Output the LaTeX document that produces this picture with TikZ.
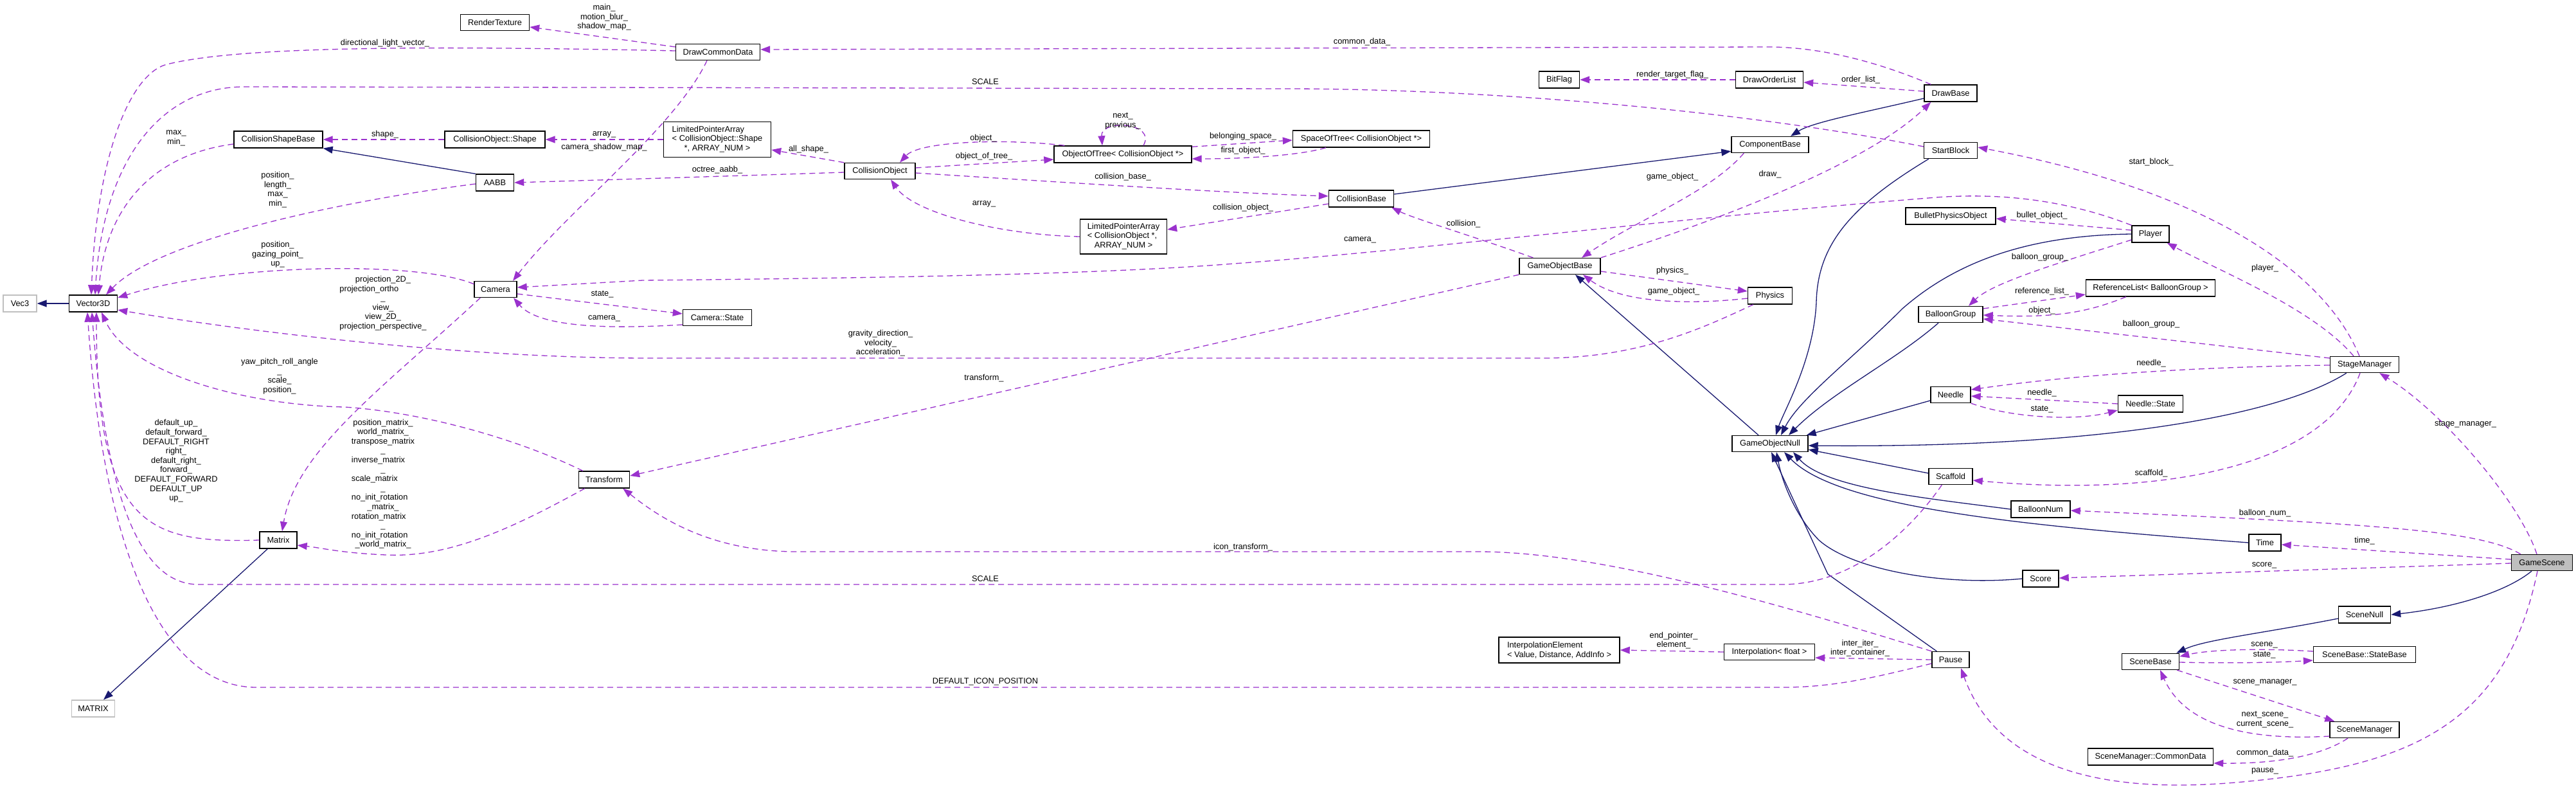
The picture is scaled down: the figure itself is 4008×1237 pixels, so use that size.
\documentclass[tikz,border=0pt]{standalone}
\usepackage{fontspec}
\setmainfont{Liberation Sans}
\usetikzlibrary{arrows.meta,calc}
\definecolor{usecol}{HTML}{9A32CD}
\definecolor{inhcol}{HTML}{191970}
\definecolor{grayfill}{HTML}{BFBFBF}
\newcommand\lblfont{\fontsize{12.8}{14.6}\selectfont}
\newcommand\Lft[1]{\multicolumn{1}{@{}l@{}}{#1}}
\begin{document}
\begin{tikzpicture}[x=1pt,y=-1pt,
  cls/.style={draw=black, fill=white, line width=1.4pt, inner sep=0pt, font=\lblfont, align=center},
  ext/.style={cls, draw=grayfill},
  depline/.style={draw=usecol, line width=1.3pt, dash pattern=on 9pt off 6pt, -{Triangle[length=15pt,width=11pt]}},
  inhline/.style={draw=inhcol, line width=1.3pt, -{Triangle[length=15pt,width=11pt]}},
  lab/.style={font=\lblfont, inner sep=0pt, align=center}]
\fill[white] (0,0) rectangle (4008,1237);
\useasboundingbox (0,0) rectangle (4008,1237);

% ---------- classes ----------
\node[cls,minimum width=107pt,minimum height=25pt] (RT) at (770,35) {RenderTexture};
\node[cls,minimum width=131pt,minimum height=25pt] (DCD) at (1117,81) {DrawCommonData};
\node[cls,minimum width=138pt,minimum height=26pt] (CSB) at (433,217) {CollisionShapeBase};
\node[cls,minimum width=156pt,minimum height=26pt] (COS) at (770,217) {CollisionObject::Shape};
\node[cls,minimum width=59pt,minimum height=26pt] (AABB) at (770,284) {AABB};
\node[cls,minimum width=167pt,minimum height=55pt] (LPAS) at (1116,217) {\begin{tabular}{@{}l@{}}LimitedPointerArray\\< CollisionObject::Shape\\\multicolumn{1}{@{}c@{}}{*, ARRAY\_NUM >}\end{tabular}};
\node[cls,minimum width=110pt,minimum height=25pt] (CO) at (1369,266) {CollisionObject};
\node[cls,minimum width=214pt,minimum height=26pt] (OOT) at (1747,240) {ObjectOfTree< CollisionObject *>};
\node[cls,minimum width=135pt,minimum height=54pt] (LPAC) at (1748,368) {\begin{tabular}{@{}l@{}}LimitedPointerArray\\< CollisionObject *,\\\multicolumn{1}{@{}c@{}}{ARRAY\_NUM >}\end{tabular}};
\node[cls,minimum width=213pt,minimum height=26pt] (SOT) at (2118,216) {SpaceOfTree< CollisionObject *>};
\node[cls,minimum width=63pt,minimum height=26pt] (BitFlag) at (2426,124) {BitFlag};
\node[cls,minimum width=105pt,minimum height=26pt] (DOL) at (2753,124) {DrawOrderList};
\node[cls,minimum width=120pt,minimum height=25pt] (CB) at (2754,225) {ComponentBase};
\node[cls,minimum width=101pt,minimum height=26pt] (ColB) at (2118,309) {CollisionBase};
\node[cls,minimum width=126pt,minimum height=25pt] (GOB) at (2427,414) {GameObjectBase};
\node[cls,minimum width=82pt,minimum height=26pt] (DB) at (3035,145) {DrawBase};
\node[cls,minimum width=83pt,minimum height=25pt] (StB) at (3035,234) {StartBlock};
\node[cls,minimum width=140pt,minimum height=26pt] (BPO) at (3035,336) {BulletPhysicsObject};
\node[cls,minimum width=58pt,minimum height=26pt] (Player) at (3346,364) {Player};
\node[ext,minimum width=52pt,minimum height=26pt] (Vec3) at (31,472) {Vec3};
\node[cls,minimum width=75pt,minimum height=26pt] (V3D) at (145,472) {Vector3D};
\node[cls,minimum width=66pt,minimum height=25pt] (Cam) at (771,450) {Camera};
\node[cls,minimum width=79pt,minimum height=26pt] (Tr) at (940,746) {Transform};
\node[cls,minimum width=58pt,minimum height=26pt] (Mat) at (433,840) {Matrix};
\node[ext,minimum width=67pt,minimum height=26pt] (MAT) at (145,1102) {MATRIX};
\node[cls,minimum width=107pt,minimum height=25pt] (CamSt) at (1116,494) {Camera::State};
\node[cls,minimum width=69pt,minimum height=26pt] (Phys) at (2754,460) {Physics};
\node[cls,minimum width=118pt,minimum height=25pt] (GON) at (2754,690) {GameObjectNull};
\node[cls,minimum width=100pt,minimum height=25pt] (BG) at (3035,489) {BalloonGroup};
\node[cls,minimum width=62pt,minimum height=25pt] (Needle) at (3035,614) {Needle};
\node[cls,minimum width=68pt,minimum height=25pt] (Scaf) at (3035,741) {Scaffold};
\node[cls,minimum width=92pt,minimum height=26pt] (BN) at (3175,792) {BalloonNum};
\node[cls,minimum width=201pt,minimum height=26pt] (RL) at (3346,448) {ReferenceList< BalloonGroup >};
\node[cls,minimum width=107pt,minimum height=25pt] (StM) at (3679,567) {StageManager};
\node[cls,minimum width=101pt,minimum height=26pt] (NS) at (3346,628) {Needle::State};
\node[cls,minimum width=50pt,minimum height=26pt] (Time) at (3524,844) {Time};
\node[cls,fill=grayfill,minimum width=95pt,minimum height=25pt] (GS) at (3955,875) {GameScene};
\node[cls,minimum width=56pt,minimum height=26pt] (Score) at (3175,900) {Score};
\node[cls,minimum width=81pt,minimum height=26pt] (SN) at (3679,956) {SceneNull};
\node[cls,minimum width=58pt,minimum height=25pt] (Pause) at (3035,1026) {Pause};
\node[cls,minimum width=89pt,minimum height=25pt] (SBase) at (3346,1029) {SceneBase};
\node[cls,minimum width=159pt,minimum height=25pt] (SBSB) at (3679,1018) {SceneBase::StateBase};
\node[cls,minimum width=108pt,minimum height=25pt] (ScM) at (3679,1135) {SceneManager};
\node[cls,minimum width=195pt,minimum height=26pt] (SMCD) at (3346,1177) {SceneManager::CommonData};
\node[cls,align=left,minimum width=188pt,minimum height=40pt] (IE) at (2426,1011) {InterpolationElement\\< Value, Distance, AddInfo >};
\node[cls,minimum width=141pt,minimum height=25pt] (Interp) at (2753,1014) {Interpolation< float >};

% ---------- inheritance ----------
\draw[inhline] (V3D.west) -- (Vec3.east);
\draw[inhline] (AABB.north west) -- (CSB.south east);
\draw[inhline] ($(ColB.east)+(0,-7)$) -- ($(CB.south west)+(0,-3)$);
\draw[inhline] ($(DB.west)+(0,8)$) .. controls (2900,175) and (2820,190) .. ($(CB.north)+(32,0)$);
\draw[inhline] ($(GON.north)+(-18,0)$) -- ($(GOB.south)+(24,0)$);
\draw[inhline] ($(StB.south west)+(8,0)$) .. controls (2880,320) and (2828,380) .. (2826,470) .. controls (2822,560) and (2775,640) .. ($(GON.north)+(9,0)$);
\draw[inhline] (Player.west) .. controls (3150,366) and (3040,410) .. (2960,480) .. controls (2880,560) and (2800,620) .. ($(GON.north)+(17,0)$);
\draw[inhline] ($(BG.south)+(-19,0)$) .. controls (2950,560) and (2850,610) .. ($(GON.north)+(29,0)$);
\draw[inhline] ($(Needle.west)+(0,9)$) -- ($(GON.north east)+(-3,0)$);
\draw[inhline] ($(StM.south west)+(26,0)$) .. controls (3540,650) and (3250,697) .. ($(GON.east)+(0,3)$);
\draw[inhline] ($(Scaf.west)+(0,-5)$) -- ($(GON.south east)+(0,-4)$);
\draw[inhline] (BN.west) .. controls (3000,775) and (2840,760) .. ($(GON.south)+(36,0)$);
\draw[inhline] (Time.west) .. controls (3150,818) and (2860,790) .. ($(GON.south)+(22,0)$);
\draw[inhline] (Score.west) .. controls (3020,912) and (2880,885) .. (2830,840) .. controls (2800,810) and (2775,760) .. ($(GON.south)+(10,0)$);
\draw[inhline] ($(Pause.north west)+(8,0)$) -- (2844,893) -- ($(GON.south)+(2,0)$);
\draw[inhline] ($(GS.south)+(-16,0)$) .. controls (3900,920) and (3820,945) .. (SN.east);
\draw[inhline] ($(SN.west)+(0,6)$) .. controls (3520,985) and (3430,995) .. ($(SBase.north east)+(-5,0)$);
\draw[inhline] ($(Mat.south west)+(13,0)$) -- ($(MAT.north)+(16,0)$);

% ---------- usage ----------
\draw[depline] ($(DCD.west)+(0,-8)$) -- ($(RT.east)+(0,7)$);
\draw[depline] ($(DCD.west)+(0,-2)$) .. controls (700,72) and (380,70) .. (260,100) .. controls (200,115) and (150,250) .. ($(V3D.north)+(-3,0)$);
\draw[depline] ($(StB.west)+(0,-6)$) .. controls (2700,170) and (2300,138) .. (2000,138) -- (380,135) .. controls (250,135) and (160,250) .. ($(V3D.north)+(3,0)$);
\draw[depline] ($(CSB.west)+(0,7)$) .. controls (240,240) and (165,320) .. ($(V3D.north)+(8,0)$);
\draw[depline] ($(AABB.west)+(0,2)$) .. controls (550,310) and (250,370) .. ($(V3D.north)+(20,0)$);
\draw[depline] ($(Cam.north west)+(0,5)$) .. controls (650,405) and (350,410) .. ($(V3D.east)+(0,-9)$);
\draw[depline] ($(Phys.south west)+(9,0)$) .. controls (2650,510) and (2550,557) .. (2400,557) -- (1010,557) .. controls (700,557) and (350,510) .. ($(V3D.east)+(0,10)$);
\draw[depline] ($(Tr.north west)+(7,0)$) .. controls (800,680) and (650,640) .. (535,633) .. controls (380,630) and (200,580) .. ($(V3D.south)+(13,0)$);
\draw[depline] (Mat.west) .. controls (230,845) and (150,820) .. ($(V3D.south)+(5,0)$);
\draw[depline] ($(Scaf.south west)+(21,0)$) .. controls (2990,800) and (2900,909) .. (2773,909) -- (309,909) .. controls (220,909) and (165,780) .. ($(V3D.south)+(-2,0)$);
\draw[depline] ($(Pause.west)+(0,6)$) .. controls (2930,1050) and (2860,1069) .. (2773,1069) -- (399,1069) .. controls (250,1069) and (160,850) .. ($(V3D.south)+(-9,0)$);
\draw[depline] ($(DCD.south)+(-17,0)$) .. controls (1050,200) and (880,330) .. ($(Cam.north)+(27,0)$);
\draw[depline] (LPAS.west) -- (COS.east);
\draw[depline] (COS.west) -- (CSB.east);
\draw[depline] (CO.north west) -- ($(LPAS.east)+(0,16)$);
\draw[depline] ($(CO.west)+(0,2)$) .. controls (1100,275) and (900,281) .. (AABB.east);
\draw[depline] ($(OOT.north west)+(17,0)$) .. controls (1560,215) and (1430,220) .. ($(CO.north)+(31,0)$);
\draw[depline] ($(CO.east)+(0,-5)$) -- ($(OOT.west)+(0,8)$);
\draw[depline] ($(OOT.north)+(32,0)$) .. controls (1800,190) and (1712,185) .. ($(OOT.north)+(-32,0)$);
\draw[depline] ($(OOT.north east)+(0,2)$) -- ($(SOT.west)+(0,2)$);
\draw[depline] ($(SOT.south west)+(52,0)$) .. controls (2030,240) and (1950,247) .. ($(OOT.east)+(0,7)$);
\draw[depline] ($(CO.east)+(0,3)$) .. controls (1600,280) and (1900,300) .. ($(ColB.west)+(0,-4)$);
\draw[depline] (LPAC.west) .. controls (1550,365) and (1420,330) .. ($(CO.south)+(17,0)$);
\draw[depline] ($(ColB.west)+(0,8)$) -- ($(LPAC.east)+(0,-11)$);
\draw[depline] ($(DB.north west)+(11,0)$) .. controls (2930,100) and (2840,73) .. (2750,73) -- ($(DCD.east)+(0,-4)$);
\draw[depline] (DOL.west) -- (BitFlag.east);
\draw[depline] ($(DB.west)+(0,-3)$) -- ($(DOL.east)+(0,4)$);
\draw[depline] ($(CB.south west)+(20,0)$) .. controls (2660,300) and (2550,340) .. ($(GOB.north)+(34,0)$);
\draw[depline] (GOB.north east) .. controls (2650,350) and (2900,260) .. ($(DB.south west)+(11,0)$);
\draw[depline] ($(GOB.north west)+(22,0)$) .. controls (2300,370) and (2200,340) .. ($(ColB.south east)+(-4,0)$);
\draw[depline] (Player.north west) .. controls (3200,305) and (3090,300) .. (3000,308) .. controls (2600,340) and (2200,390) .. (1920,410) .. controls (1700,428) and (1300,433) .. (1000,436) -- ($(Cam.east)+(0,-3)$);
\draw[depline] ($(Cam.east)+(0,7)$) -- ($(CamSt.west)+(0,-6)$);
\draw[depline] ($(CamSt.west)+(0,11)$) .. controls (900,515) and (830,500) .. ($(Cam.south)+(28,0)$);
\draw[depline] ($(Cam.south west)+(10,0)$) .. controls (600,600) and (460,700) .. ($(Mat.north)+(6,0)$);
\draw[depline] ($(Tr.south west)+(10,0)$) .. controls (800,820) and (700,868) .. (600,863) .. controls (530,860) and (500,852) .. ($(Mat.east)+(0,8)$);
\draw[depline] (GOB.south west) -- ($(Tr.east)+(0,-6)$);
\draw[depline] ($(GOB.east)+(0,8)$) -- ($(Phys.west)+(0,-7)$);
\draw[depline] ($(Phys.west)+(0,4)$) .. controls (2620,475) and (2520,470) .. ($(GOB.south)+(36,0)$);
\draw[depline] ($(StM.north)+(-8,0)$) .. controls (3620,430) and (3450,300) .. ($(StB.east)+(0,-5)$);
\draw[depline] ($(Player.west)+(0,-6)$) -- ($(BPO.east)+(0,4)$);
\draw[depline] ($(Player.west)+(0,9)$) .. controls (3200,410) and (3100,440) .. ($(BG.north)+(28,0)$);
\draw[depline] ($(StM.north)+(-17,0)$) .. controls (3600,480) and (3450,420) .. ($(Player.south east)+(-4,0)$);
\draw[depline] ($(BG.east)+(0,-9)$) -- ($(RL.west)+(0,10)$);
\draw[depline] ($(RL.south west)+(63,0)$) .. controls (3250,485) and (3200,495) .. ($(BG.east)+(0,1)$);
\draw[depline] ($(StM.west)+(0,-10)$) -- ($(BG.east)+(0,7)$);
\draw[depline] ($(StM.west)+(0,1)$) .. controls (3450,570) and (3250,580) .. ($(Needle.east)+(0,-8)$);
\draw[depline] (NS.west) -- ($(Needle.east)+(0,2)$);
\draw[depline] (Needle.south east) .. controls (3130,650) and (3230,655) .. ($(NS.west)+(0,10)$);
\draw[depline] ($(StM.south)+(-7,0)$) .. controls (3620,720) and (3380,775) .. ($(Scaf.east)+(0,6)$);
\draw[depline] ($(GS.north)+(-8,0)$) .. controls (3920,780) and (3800,640) .. ($(StM.south east)+(-31,0)$);
\draw[depline] ($(GS.north west)+(15,0)$) .. controls (3860,825) and (3700,815) .. ($(BN.east)+(0,2)$);
\draw[depline] ($(GS.west)+(0,-5)$) -- ($(Time.east)+(0,3)$);
\draw[depline] ($(GS.west)+(0,1)$) -- ($(Score.east)+(0,-1)$);
\draw[depline] ($(GS.south)+(-7,0)$) .. controls (3900,1120) and (3760,1190) .. (3500,1215) .. controls (3350,1230) and (3120,1230) .. ($(Pause.south)+(16,0)$);
\draw[depline] ($(SBSB.west)+(0,-5)$) .. controls (3520,1008) and (3440,1010) .. ($(SBase.east)+(0,-8)$);
\draw[depline] ($(SBase.east)+(0,1)$) .. controls (3480,1032) and (3550,1030) .. ($(SBSB.west)+(0,9)$);
\draw[depline] ($(SBase.south east)+(-4,0)$) -- ($(ScM.north west)+(8,0)$);
\draw[depline] ($(ScM.west)+(0,10)$) .. controls (3500,1152) and (3400,1130) .. ($(SBase.south)+(15,0)$);
\draw[depline] ($(ScM.south)+(-26,0)$) .. controls (3620,1170) and (3560,1188) .. ($(SMCD.east)+(0,10)$);
\draw[depline] (Interp.west) -- (IE.east);
\draw[depline] (Pause.west) -- ($(Interp.east)+(0,9)$);
\draw[depline] (Pause.north west) .. controls (2800,950) and (2500,858) .. (2300,858) -- (1240,858) .. controls (1100,858) and (1020,800) .. ($(Tr.south east)+(-11,0)$);

% ---------- labels ----------
\node[lab] (l1) at (940,27) {main\_\\motion\_blur\_\\shadow\_map\_};
\node[lab] (l2) at (599,67) {directional\_light\_vector\_};
\node[lab] (l3) at (274,215) {max\_\\min\_};
\node[lab] (l4) at (599,209) {shape\_};
\node[lab] (l5) at (940,209) {array\_};
\node[lab] (l6) at (940,229) {camera\_shadow\_map\_};
\node[lab] (l7) at (432,295) {position\_\\length\_\\max\_\\min\_};
\node[lab] (l8) at (432,396) {position\_\\gazing\_point\_\\up\_};
\node[lab] (l9) at (1533,127) {SCALE};
\node[lab] (l10) at (1747,188) {next\_\\previous\_};
\node[lab] (l11) at (1530,215) {object\_};
\node[lab] (l12) at (1934,212) {belonging\_space\_};
\node[lab] (l13) at (1934,234) {first\_object\_};
\node[lab] (l14) at (1258,232) {all\_shape\_};
\node[lab] (l15) at (1531,243) {object\_of\_tree\_};
\node[lab] (l16) at (1116,264) {octree\_aabb\_};
\node[lab] (l17) at (1747,275) {collision\_base\_};
\node[lab] (l18) at (1531,317) {array\_};
\node[lab] (l19) at (1934,323) {collision\_object\_};
\node[lab] (l20) at (2119,65) {common\_data\_};
\node[lab] (l21) at (2602,116) {render\_target\_flag\_};
\node[lab] (l22) at (2895,124) {order\_list\_};
\node[lab] (l23) at (2602,275) {game\_object\_};
\node[lab] (l24) at (2754,271) {draw\_};
\node[lab] (l25) at (2277,348) {collision\_};
\node[lab] (l26) at (2116,373) {camera\_};
\node[lab] (l27) at (2602,421) {physics\_};
\node[lab] (l28) at (2604,453) {game\_object\_};
\node[lab] (l29) at (3347,252) {start\_block\_};
\node[lab] (l30) at (3177,335) {bullet\_object\_};
\node[lab] (l31) at (3174,400) {balloon\_group\_};
\node[lab] (l32) at (3524,417) {player\_};
\node[lab] (l33) at (596,472) {\begin{tabular}{@{}c@{}}projection\_2D\_\\\Lft{projection\_ortho}\\\_\\view\_\\view\_2D\_\\projection\_perspective\_\end{tabular}};
\node[lab] (l34) at (937,458) {state\_};
\node[lab] (l35) at (940,495) {camera\_};
\node[lab] (l36) at (435,585) {yaw\_pitch\_roll\_angle\\\_\\scale\_\\position\_};
\node[lab] (l37) at (274,717) {default\_up\_\\default\_forward\_\\DEFAULT\_RIGHT\\right\_\\default\_right\_\\forward\_\\DEFAULT\_FORWARD\\DEFAULT\_UP\\up\_};
\node[lab] (l38) at (596,753) {\begin{tabular}{@{}c@{}}position\_matrix\_\\world\_matrix\_\\transpose\_matrix\\\_\\\Lft{inverse\_matrix}\\\_\\\Lft{scale\_matrix}\\\_\\\Lft{no\_init\_rotation}\\\_matrix\_\\\Lft{rotation\_matrix}\\\_\\\Lft{no\_init\_rotation}\\\_world\_matrix\_\end{tabular}};
\node[lab] (l39) at (1370,534) {gravity\_direction\_\\velocity\_\\acceleration\_};
\node[lab] (l40) at (1531,588) {transform\_};
\node[lab] (l41) at (3177,453) {reference\_list\_};
\node[lab] (l42) at (3177,483) {object\_};
\node[lab] (l43) at (3347,504) {balloon\_group\_};
\node[lab] (l44) at (3347,565) {needle\_};
\node[lab] (l45) at (3177,611) {needle\_};
\node[lab] (l46) at (3177,637) {state\_};
\node[lab] (l47) at (3836,660) {stage\_manager\_};
\node[lab] (l48) at (3347,736) {scaffold\_};
\node[lab] (l49) at (3524,798) {balloon\_num\_};
\node[lab] (l50) at (3679,841) {time\_};
\node[lab] (l51) at (3523,879) {score\_};
\node[lab] (l52) at (3523,1003) {scene\_};
\node[lab] (l53) at (3523,1019) {state\_};
\node[lab] (l54) at (3524,1061) {scene\_manager\_};
\node[lab] (l55) at (3524,1119) {next\_scene\_\\current\_scene\_};
\node[lab] (l56) at (3524,1171) {common\_data\_};
\node[lab] (l57) at (3524,1199) {pause\_};
\node[lab] (l58) at (2604,996) {end\_pointer\_\\element\_};
\node[lab] (l59) at (2894,1008) {inter\_iter\_\\inter\_container\_};
\node[lab] (l60) at (1934,851) {icon\_transform\_};
\node[lab] (l61) at (1533,900) {SCALE};
\node[lab] (l62) at (1533,1060) {DEFAULT\_ICON\_POSITION};
\end{tikzpicture}
\end{document}
